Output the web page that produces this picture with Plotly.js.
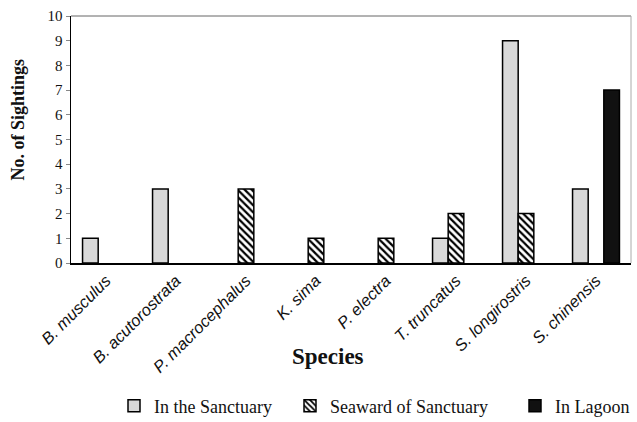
<!DOCTYPE html>
<html><head><meta charset="utf-8">
<script src="https://cdn.plot.ly/plotly-3.0.1.min.js"></script>
<style>html,body{margin:0;padding:0;background:#fff;}</style>
</head><body>
<div id="chart" style="width:637px;height:422px;"></div>
<script>
const species = ["B. musculus","B. acutorostrata","P. macrocephalus","K. sima","P. electra","T. truncatus","S. longirostris","S. chinensis"];
const inSanctuary = [1,3,0,0,0,1,9,3];
const seaward = [0,0,3,1,1,2,2,0];
const inLagoon = [0,0,0,0,0,0,0,7];
const seriesNames = ["In the Sanctuary","Seaward of Sanctuary","In Lagoon"];
const yTicks = [0,1,2,3,4,5,6,7,8,9,10];

// zero counts draw no bar
const nz = arr => arr.map(v => v === 0 ? null : v);
const lineStyle = {color:"#000", width:1.5};
const traces = [
  {type:"bar", name:seriesNames[0], x:species, y:nz(inSanctuary), legend:"legend",
   marker:{color:"#d9d9d9", line:lineStyle}},
  {type:"bar", name:seriesNames[1], x:species, y:nz(seaward), legend:"legend2",
   marker:{color:"#ffffff", line:lineStyle, pattern:{shape:"\\", fgcolor:"#000", bgcolor:"#fff", size:5, solidity:0.45}}},
  {type:"bar", name:seriesNames[2], x:species, y:nz(inLagoon), legend:"legend3",
   marker:{color:"#111", line:lineStyle}}
];
const legFont = {family:"Liberation Serif", size:18, color:"#111"};
const leg = (x) => ({orientation:"h", xref:"container", yref:"container", x:x, xanchor:"left",
                     y:0.038, yanchor:"middle", font:legFont, bgcolor:"rgba(0,0,0,0)"});
const layout = {
  width:637, height:422,
  margin:{l:71, r:6, t:16, b:159},
  paper_bgcolor:"#fff", plot_bgcolor:"#fff",
  barmode:"group", bargap:0.33, bargroupgap:0,
  showlegend:true,
  legend:leg(114/637), legend2:leg(290/637), legend3:leg(515/637),
  xaxis:{tickangle:-45, showline:true, linecolor:"#000", linewidth:1.5, ticks:"", automargin:false,
         tickfont:{family:"Liberation Sans", size:16.5, color:"#111", style:"italic"},
         showgrid:false, zeroline:false},
  yaxis:{range:[0,10], tickvals:yTicks, ticks:"outside", ticklen:4, tickcolor:"#888", automargin:false,
         showline:true, linecolor:"#000", linewidth:1.5, showgrid:false, zeroline:false,
         tickfont:{family:"Liberation Serif", size:15, color:"#111"}},
  shapes:[
    {type:"line", xref:"paper", yref:"paper", x0:0, x1:1, y0:1, y1:1, line:{color:"#666", width:1}},
    {type:"line", xref:"paper", yref:"paper", x0:1, x1:1, y0:0, y1:1, line:{color:"#aaa", width:1}}
  ],
  annotations:[
    {text:"<b>Species</b>", xref:"paper", yref:"paper", x:0.459, y:-0.38, yanchor:"middle", showarrow:false,
     font:{family:"Liberation Serif", size:23, color:"#111"}},
    {text:"<b>No. of Sightings</b>", xref:"paper", yref:"paper", x:-0.093, xanchor:"center", y:0.581, showarrow:false,
     textangle:-90, font:{family:"Liberation Serif", size:18, color:"#111"}}
  ]
};
Plotly.newPlot("chart", traces, layout, {staticPlot:true, displayModeBar:false});
</script>
</body></html>
